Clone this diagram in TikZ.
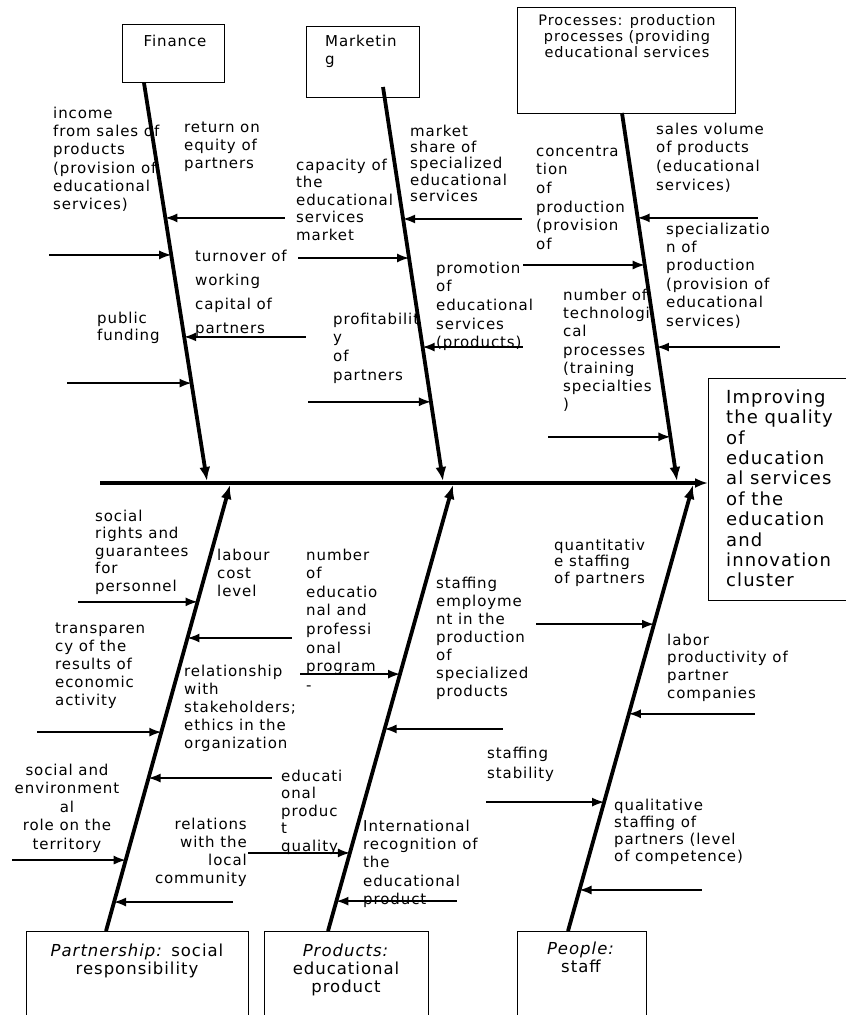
\documentclass[tikz,border=0pt]{standalone}
\usepackage{fontspec}
\setmainfont{DejaVu Sans}[LetterSpace=6]
\usetikzlibrary{arrows.meta,calc}

\newcommand{\lblsize}[1]{\fontsize{15}{#1}\selectfont}
\newcommand{\lh}{\rule{0pt}{12.6pt}}

\tikzset{
  factor/.style={draw, line width=1.2pt, anchor=north west, inner sep=0pt},
  spine/.style={line width=4.5pt, -{Latex[length=13pt,width=10pt]}},
  bone/.style={line width=3.8pt, -{Latex[length=14pt,width=11pt]}},
  cause/.style={line width=1.5pt, {Latex[length=12pt,width=9pt]}-},
  lbl/.style={anchor=north west, inner sep=0pt, yshift=8.5pt, align=left,
    font=\lblsize{18}, execute at begin node=\lh},
  boxlbl/.style={lbl, anchor=north, align=center}
}

\begin{document}
\begin{tikzpicture}[x=1pt, y=-1pt]
\useasboundingbox (0,0) rectangle (846,1015);

% Caixas dos fatores
\node[factor, minimum width=102pt, minimum height=58pt] (fin) at (122,24) {};
\node[factor, minimum width=113pt, minimum height=71pt] (mkt) at (306,26) {};
\node[factor, minimum width=218pt, minimum height=106pt] (prc) at (517,7) {};
\node[factor, minimum width=222pt, minimum height=100pt] (prt) at (26,931) {};
\node[factor, minimum width=164pt, minimum height=100pt] (prd) at (264,931) {};
\node[factor, minimum width=129pt, minimum height=100pt] (ppl) at (517,931) {};
\node[factor, minimum width=142pt, minimum height=222pt] (res) at (708,378) {};

\node[boxlbl] (fin-t) at (175,42) {Finance};
\node[lbl] (mkt-t) at (325,43) {Marketin\\g};
\node[boxlbl, font=\fontsize{14.5}{16}\selectfont] (prc-t) at (627,23)
  {Processes: production\\processes (providing\\educational services};
\node[boxlbl, font=\fontsize{16.5}{18}\selectfont] (prt-t) at (137,952)
  {\textit{Partnership:} social\\responsibility};
\node[boxlbl, font=\fontsize{16.5}{18}\selectfont] (prd-t) at (346,952)
  {\textit{Products:}\\educational\\product};
\node[boxlbl, font=\fontsize{16.5}{18.5}\selectfont] (ppl-t) at (581,950)
  {\textit{People:}\\staff};
\node[lbl, font=\fontsize{18}{20.4}\selectfont] (res-t) at (726,398)
  {Improving\\the quality\\of\\education\\al services\\of the\\education\\and\\innovation\\cluster};

% Espinha principal
\coordinate (sp-a) at (100,483);
\draw[spine] (sp-a) -- (sp-a -| res.west);

% Finance
\coordinate (fin-a) at (144,83);
\coordinate (fin-b) at (207,481);
\draw[bone] (fin-a) -- (fin-b);
\coordinate (f1) at ($(fin-a)!0.339!(fin-b)$);
\coordinate (f2) at ($(fin-a)!0.432!(fin-b)$);
\coordinate (f3) at ($(fin-a)!0.638!(fin-b)$);
\coordinate (f4) at ($(fin-a)!0.754!(fin-b)$);
\draw[cause] (f1) -- ++(120,0);
\draw[cause] (f2) -- ++(-122,0);
\draw[cause] (f3) -- ++(122,0);
\draw[cause] (f4) -- ++(-125,0);
\node[lbl, font=\lblsize{18.3}] (income) at (53,115)
  {income\\from sales of\\products\\(provision of\\educational\\services)};
\node[lbl] (equity) at (184,130) {return on\\equity of\\partners};
\node[lbl, font=\lblsize{24}] (turnover) at (195,258) {turnover of\\working\\capital of\\partners};
\node[lbl, font=\lblsize{17}] (funding) at (97,320) {public\\funding};

% Marketing
\coordinate (mkt-a) at (383,87);
\coordinate (mkt-b) at (443,481);
\draw[bone] (mkt-a) -- (mkt-b);
\coordinate (m1) at ($(mkt-a)!0.335!(mkt-b)$);
\coordinate (m2) at ($(mkt-a)!0.434!(mkt-b)$);
\coordinate (m3) at ($(mkt-a)!0.660!(mkt-b)$);
\coordinate (m4) at ($(mkt-a)!0.799!(mkt-b)$);
\draw[cause] (m1) -- ++(119,0);
\draw[cause] (m2) -- ++(-111,0);
\draw[cause] (m3) -- ++(100,0);
\draw[cause] (m4) -- ++(-123,0);
\node[lbl, font=\lblsize{17.5}] (capacity) at (296,167)
  {capacity of\\the\\educational\\services\\market};
\node[lbl, font=\lblsize{16.3}] (share) at (410,133)
  {market\\share of\\specialized\\educational\\services};
\node[lbl, font=\lblsize{18.7}] (profit) at (333,321) {profitabilit\\y\\of\\partners};
\node[lbl, font=\lblsize{18.7}] (promo) at (436,270)
  {promotion\\of\\educational\\services\\(products)};

% Processes
\coordinate (prc-a) at (622,113);
\coordinate (prc-b) at (677,481);
\draw[bone] (prc-a) -- (prc-b);
\coordinate (p1) at ($(prc-a)!0.285!(prc-b)$);
\coordinate (p2) at ($(prc-a)!0.413!(prc-b)$);
\coordinate (p3) at ($(prc-a)!0.636!(prc-b)$);
\coordinate (p4) at ($(prc-a)!0.880!(prc-b)$);
\draw[cause] (p1) -- ++(120,0);
\draw[cause] (p2) -- ++(-122,0);
\draw[cause] (p3) -- ++(123,0);
\draw[cause] (p4) -- ++(-122,0);
\node[lbl, font=\lblsize{18.6}] (concent) at (536,154)
  {concentra\\tion\\of\\production\\(provision\\of};
\node[lbl, font=\lblsize{18.7}] (volume) at (656,131)
  {sales volume\\of products\\(educational\\services)};
\node[lbl, font=\lblsize{18.4}] (special) at (666,231)
  {specializatio\\n of\\production\\(provision of\\educational\\services)};
\node[lbl, font=\lblsize{18.3}] (techproc) at (563,297)
  {number of\\technologi\\cal\\processes\\(training\\specialties\\)};

% Partnership
\coordinate (prt-a) at (106,931);
\coordinate (prt-b) at (230,485);
\draw[bone] (prt-a) -- (prt-b);
\coordinate (s1) at ($(prt-a)!0.738!(prt-b)$);
\coordinate (s2) at ($(prt-a)!0.657!(prt-b)$);
\coordinate (s3) at ($(prt-a)!0.446!(prt-b)$);
\coordinate (s4) at ($(prt-a)!0.343!(prt-b)$);
\coordinate (s5) at ($(prt-a)!0.159!(prt-b)$);
\coordinate (s6) at ($(prt-a)!0.065!(prt-b)$);
\draw[cause] (s1) -- ++(-120,0);
\draw[cause] (s2) -- ++(105,0);
\draw[cause] (s3) -- ++(-124,0);
\draw[cause] (s4) -- ++(123,0);
\draw[cause] (s5) -- ++(-114,0);
\draw[cause] (s6) -- ++(119,0);
\node[lbl, font=\lblsize{17.6}] (rights) at (95,518)
  {social\\rights and\\guarantees\\for\\personnel};
\node[lbl] (labour) at (217,557) {labour\\cost\\level};
\node[lbl] (transp) at (55,631)
  {transparen\\cy of the\\results of\\economic\\activity};
\node[lbl] (stake) at (184,673)
  {relationship\\with\\stakeholders;\\ethics in the\\organization};
\node[lbl, font=\lblsize{18.5}, anchor=north, align=center] (envir) at (67,772)
  {social and\\environment\\al\\role on the\\territory};
\node[lbl, anchor=north east, align=right] (local) at (247,826)
  {relations\\with the\\local\\community};

% Products
\coordinate (prd-a) at (328,931);
\coordinate (prd-b) at (453,485);
\draw[bone] (prd-a) -- (prd-b);
\coordinate (d1) at ($(prd-a)!0.576!(prd-b)$);
\coordinate (d2) at ($(prd-a)!0.453!(prd-b)$);
\coordinate (d3) at ($(prd-a)!0.175!(prd-b)$);
\coordinate (d4) at ($(prd-a)!0.067!(prd-b)$);
\draw[cause] (d1) -- ++(-100,0);
\draw[cause] (d2) -- ++(118,0);
\draw[cause] (d3) -- ++(-102,0);
\draw[cause] (d4) -- ++(121,0);
\node[lbl, font=\lblsize{18.6}] (progs) at (306,557)
  {number\\of\\educatio\\nal and\\professi\\onal\\program\\-};
\node[lbl, font=\lblsize{17.5}] (quality) at (281,778)
  {educati\\onal\\produc\\t\\quality};
\node[lbl, font=\lblsize{18.3}] (recogn) at (363,828)
  {International\\recognition of\\the\\educational\\product};

% People
\coordinate (ppl-a) at (568,931);
\coordinate (ppl-b) at (693,485);
\draw[bone] (ppl-a) -- (ppl-b);
\coordinate (e1) at ($(ppl-a)!0.688!(ppl-b)$);
\coordinate (e2) at ($(ppl-a)!0.487!(ppl-b)$);
\coordinate (e3) at ($(ppl-a)!0.289!(ppl-b)$);
\coordinate (e4) at ($(ppl-a)!0.092!(ppl-b)$);
\draw[cause] (e1) -- ++(-118,0);
\draw[cause] (e2) -- ++(126,0);
\draw[cause] (e3) -- ++(-118,0);
\draw[cause] (e4) -- ++(122,0);
\node[lbl] (employ) at (436,585)
  {staffing\\employme\\nt in the\\production\\of\\specialized\\products};
\node[lbl, font=\lblsize{16.5}] (quant) at (554,547) {quantitativ\\e staffing\\of partners};
\node[lbl, font=\lblsize{17.7}] (labprod) at (667,642)
  {labor\\productivity of\\partner\\companies};
\node[lbl, font=\lblsize{20}] (stabil) at (487,755) {staffing\\stability};
\node[lbl, font=\lblsize{17}] (qualit) at (614,807)
  {qualitative\\staffing of\\partners (level\\of competence)};
\end{tikzpicture}
\end{document}
